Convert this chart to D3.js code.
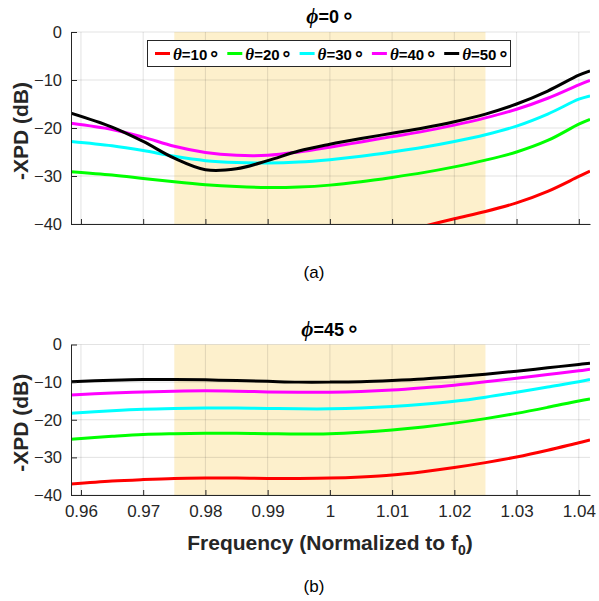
<!DOCTYPE html>
<html><head><meta charset="utf-8">
<script src="https://cdn.jsdelivr.net/npm/d3@7"></script>
<style>
body{margin:0;background:#fff;}
svg{display:block;}
text{font-family:"Liberation Sans",Arial,Helvetica,sans-serif;}
</style></head>
<body>
<svg id="chart" width="599" height="601"></svg>
<script>
// ---------- data ----------
const freq = [0.9584, 0.965, 0.97, 0.975, 0.98, 0.985, 0.99, 0.995, 1.00, 1.005, 1.01, 1.015, 1.02, 1.025, 1.03, 1.035, 1.04, 1.0418];
const thetaLabels = ["10", "20", "30", "40", "50"];
const colors = ["#ff0000", "#00ff00", "#00ffff", "#ff00ff", "#000000"];

// phi = 0 deg
const phi0_t10 = [null, null, null, null, null, null, null, null, null, null, -42.0, -40.5, -38.9, -37.4, -35.6, -33.2, -30.1, -29.0];
const phi0_t20 = [-29.1, -29.8, -30.5, -31.2, -31.8, -32.2, -32.4, -32.3, -31.9, -31.2, -30.3, -29.3, -28.1, -26.7, -25.0, -22.6, -19.2, -18.2];
const phi0_t30 = [-22.8, -23.7, -24.7, -25.9, -26.8, -27.2, -27.3, -27.1, -26.6, -25.9, -25.0, -24.0, -22.8, -21.4, -19.6, -17.1, -14.0, -13.3];
const phi0_t40 = [-19.0, -20.3, -21.9, -23.8, -25.1, -25.7, -25.7, -25.0, -24.0, -22.9, -21.8, -20.7, -19.4, -17.9, -16.1, -13.8, -11.0, -10.1];
const phi0_t50 = [-16.9, -19.8, -22.8, -26.3, -28.7, -28.5, -26.8, -24.8, -23.4, -22.2, -21.1, -20.0, -18.7, -17.1, -15.0, -12.3, -9.0, -8.1];

// phi = 45 deg
const phi45_t10 = [-37.1, -36.3, -35.9, -35.6, -35.5, -35.5, -35.6, -35.6, -35.5, -35.2, -34.7, -33.8, -32.7, -31.4, -29.9, -28.1, -26.1, -25.4];
const phi45_t20 = [-25.2, -24.4, -23.9, -23.7, -23.6, -23.6, -23.7, -23.8, -23.7, -23.3, -22.7, -21.9, -20.9, -19.7, -18.3, -16.7, -15.0, -14.5];
const phi45_t30 = [-18.3, -17.6, -17.2, -17.0, -16.9, -16.9, -17.0, -17.1, -17.1, -16.9, -16.5, -15.9, -15.1, -14.0, -12.7, -11.3, -9.9, -9.3];
const phi45_t40 = [-13.4, -12.9, -12.6, -12.4, -12.3, -12.4, -12.6, -12.7, -12.7, -12.5, -12.1, -11.5, -10.8, -9.9, -9.0, -8.0, -7.0, -6.6];
const phi45_t50 = [-9.9, -9.5, -9.3, -9.3, -9.4, -9.6, -9.8, -10.0, -10.0, -9.9, -9.6, -9.2, -8.6, -7.9, -7.1, -6.2, -5.3, -5.0];

const xTicks = [0.96, 0.97, 0.98, 0.99, 1.00, 1.01, 1.02, 1.03, 1.04];
const yTicks = [0, -10, -20, -30, -40];
const band = [0.975, 1.025];
const xDomain = [0.9584, 1.0418];
const yDomain = [-40, 0];

// ---------- drawing ----------
const svg = d3.select("#chart");
const x = d3.scaleLinear().domain(xDomain).range([71, 590]);
const axisColor = "#262626";
const fmtX = v => String(+v.toFixed(2));
const fmtY = v => (v < 0 ? "\u2212" + Math.abs(v) : String(v));

function drawPanel(id, series, top, bottom, title, showXLabels) {
  const y = d3.scaleLinear().domain(yDomain).range([bottom, top]);
  const g = svg.append("g");
  g.append("rect")
    .attr("x", x(band[0])).attr("y", top)
    .attr("width", x(band[1]) - x(band[0])).attr("height", bottom - top)
    .attr("fill", "#fdf0cc");
  g.selectAll(".gx").data(xTicks).enter().append("line")
    .attr("x1", d => x(d)).attr("x2", d => x(d)).attr("y1", top).attr("y2", bottom)
    .attr("stroke", "rgba(38,38,38,0.13)").attr("stroke-width", 1);
  g.selectAll(".gy").data(yTicks).enter().append("line")
    .attr("x1", x.range()[0]).attr("x2", x.range()[1]).attr("y1", d => y(d)).attr("y2", d => y(d))
    .attr("stroke", "rgba(38,38,38,0.13)").attr("stroke-width", 1);
  svg.append("clipPath").attr("id", "clip" + id).append("rect")
    .attr("x", x.range()[0]).attr("y", top).attr("width", x.range()[1] - x.range()[0]).attr("height", bottom - top);
  const line = d3.line()
    .defined(d => d[1] !== null)
    .x(d => x(d[0])).y(d => y(d[1]))
    .curve(d3.curveCatmullRom.alpha(0.5));
  series.forEach((vals, i) => {
    g.append("path")
      .datum(freq.map((f, k) => [f, vals[k]]))
      .attr("d", line)
      .attr("clip-path", `url(#clip${id})`)
      .attr("fill", "none").attr("stroke", colors[i]).attr("stroke-width", 3);
  });
  const xAxis = d3.axisBottom(x).tickValues(xTicks).tickSizeInner(-5).tickSizeOuter(0)
    .tickPadding(10).tickFormat(showXLabels ? fmtX : () => "");
  const gx = g.append("g").attr("transform", `translate(0,${bottom})`).call(xAxis);
  gx.select(".domain").attr("stroke", axisColor);
  gx.selectAll(".tick line").attr("stroke", axisColor);
  gx.selectAll(".tick text").attr("fill", axisColor).attr("font-size", 17)
    .attr("font-family", "Liberation Sans, Arial, sans-serif");
  const yAxis = d3.axisLeft(y).tickValues(yTicks).tickSizeInner(-6).tickSizeOuter(0)
    .tickPadding(9).tickFormat(fmtY);
  const gy = g.append("g").attr("transform", `translate(${x.range()[0]},0)`).call(yAxis);
  gy.select(".domain").attr("stroke", axisColor);
  gy.selectAll(".tick line").attr("stroke", axisColor);
  gy.selectAll(".tick text").attr("fill", axisColor).attr("font-size", 16.5)
    .attr("font-family", "Liberation Sans, Arial, sans-serif");
  g.append("text")
    .attr("transform", `translate(28,${(top + bottom) / 2 + 3}) rotate(-90)`)
    .attr("text-anchor", "middle").attr("font-weight", "bold").attr("font-size", 21)
    .attr("fill", axisColor).text("-XPD (dB)");
  const t = g.append("text").attr("x", (x.range()[0] + x.range()[1]) / 2).attr("y", top - 9)
    .attr("text-anchor", "middle").attr("font-weight", "bold").attr("font-size", 18).attr("fill", "#000");
  t.append("tspan").attr("font-family", "Liberation Serif, Times New Roman, serif").attr("font-style", "italic").attr("font-size", 21).text("\u03d5");
  t.append("tspan").text("=" + title);
  t.append("tspan").attr("font-family", "DejaVu Sans, sans-serif").attr("font-size", 22).attr("dx", 2).text("\u2218");
  return y;
}

drawPanel("a", [phi0_t10, phi0_t20, phi0_t30, phi0_t40, phi0_t50], 32, 224, "0", false);
drawPanel("b", [phi45_t10, phi45_t20, phi45_t30, phi45_t40, phi45_t50], 344.5, 495, "45", true);

// legend
const lg = svg.append("g");
lg.append("rect").attr("x", 147.5).attr("y", 40.5).attr("width", 363).attr("height", 26)
  .attr("fill", "#fff").attr("stroke", axisColor).attr("stroke-width", 1);
thetaLabels.forEach((lab, i) => {
  const x0 = 155 + i * 72.3;
  lg.append("line").attr("x1", x0).attr("x2", x0 + 15).attr("y1", 53.5).attr("y2", 53.5)
    .attr("stroke", colors[i]).attr("stroke-width", 3);
  const t = lg.append("text").attr("x", x0 + 18).attr("y", 59.5).attr("font-size", 15)
    .attr("font-weight", "bold").attr("fill", "#000");
  t.append("tspan").attr("font-family", "Liberation Serif, Times New Roman, serif").attr("font-style", "italic").attr("font-size", 17).text("\u03b8");
  t.append("tspan").text("=" + lab);
  t.append("tspan").attr("font-family", "DejaVu Sans, sans-serif").attr("font-size", 19).attr("dx", 1).text("\u2218");
});

// x label
const xl = svg.append("text").attr("x", 330).attr("y", 550).attr("text-anchor", "middle")
  .attr("font-weight", "bold").attr("font-size", 21).attr("fill", axisColor);
xl.append("tspan").text("Frequency (Normalized to f");
xl.append("tspan").attr("font-size", 14).attr("dy", 5).text("0");
xl.append("tspan").attr("dy", -5).text(")");

// captions
svg.append("text").attr("x", 314).attr("y", 278).attr("text-anchor", "middle")
  .attr("font-family", "Liberation Serif, Times New Roman, serif").attr("font-size", 17).attr("fill", "#000").text("(a)");
svg.append("text").attr("x", 314).attr("y", 592).attr("text-anchor", "middle")
  .attr("font-family", "Liberation Serif, Times New Roman, serif").attr("font-size", 17).attr("fill", "#000").text("(b)");
</script>
</body></html>
